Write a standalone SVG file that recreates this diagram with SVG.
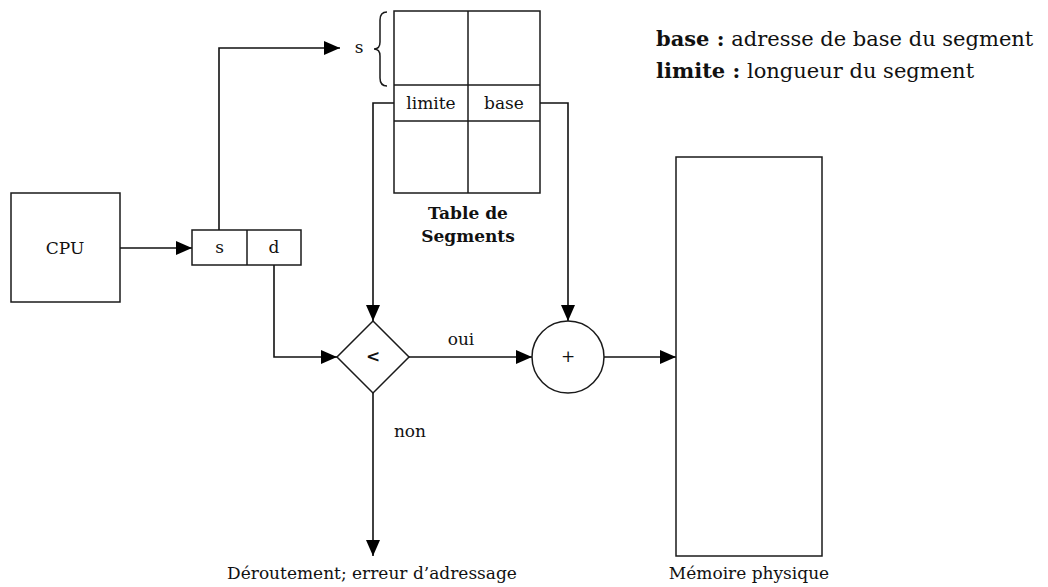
<svg xmlns="http://www.w3.org/2000/svg" width="1048" height="587" viewBox="0 0 1048 587">
  <style>
    .box { fill: #fff; stroke: #1a1a1a; stroke-width: 1.5; }
    .line { fill: none; stroke: #1a1a1a; stroke-width: 1.5; }
    .wire { fill: none; stroke: #111; stroke-width: 1.6; }
    .lbl { font-family: "DejaVu Serif", "Liberation Serif", serif; font-size: 17px; fill: #111; text-anchor: middle; }
    .bold { font-weight: bold; }
    .legend { font-family: "DejaVu Serif", "Liberation Serif", serif; font-size: 21px; fill: #111; }
  </style>
  <defs>
    <marker id="arrow" markerUnits="userSpaceOnUse" markerWidth="16" markerHeight="14" refX="16" refY="7" orient="auto">
      <path d="M0,0 L16,7 L0,14 z" fill="#000"/>
    </marker>
  </defs>

  <rect width="1048" height="587" fill="#fff"/>

  <!-- connectors -->
  <g id="connectors">
    <path class="wire" d="M120,248 H192" marker-end="url(#arrow)"/>
    <path class="wire" d="M219,230 V48 H340" marker-end="url(#arrow)"/>
    <path class="wire" d="M394,103 H373 V321" marker-end="url(#arrow)"/>
    <path class="wire" d="M540,103 H568 V321" marker-end="url(#arrow)"/>
    <path class="wire" d="M274,265 V357 H337" marker-end="url(#arrow)"/>
    <path class="wire" d="M409,357 H532" marker-end="url(#arrow)"/>
    <path class="wire" d="M604,357 H676" marker-end="url(#arrow)"/>
    <path class="wire" d="M373,393 V556" marker-end="url(#arrow)"/>
    <text class="lbl" x="461" y="345">oui</text>
    <text class="lbl" x="410" y="437">non</text>
  </g>

  <!-- processor -->
  <g id="cpu">
    <rect class="box" x="11" y="193" width="109" height="109"/>
    <text class="lbl" x="65" y="254" font-size="18">CPU</text>
  </g>

  <!-- logical address: segment number / offset -->
  <g id="address">
    <rect class="box" x="192" y="230" width="109" height="35"/>
    <line class="line" x1="247" y1="230" x2="247" y2="265"/>
    <text class="lbl" x="219.5" y="253">s</text>
    <text class="lbl" x="274" y="253">d</text>
  </g>

  <!-- segment table -->
  <g id="segment-table">
    <text class="lbl" x="359" y="53">s</text>
    <path class="line" d="M387,12 Q380,12 380,20 V42 Q380,49 374,49 Q380,49 380,56 V78 Q380,86 387,86"/>
    <rect class="box" x="394" y="11" width="146" height="182"/>
    <line class="line" x1="468" y1="11" x2="468" y2="193"/>
    <line class="line" x1="394" y1="85" x2="540" y2="85"/>
    <line class="line" x1="394" y1="121" x2="540" y2="121"/>
    <text class="lbl" x="431" y="109">limite</text>
    <text class="lbl" x="504" y="109">base</text>
    <text class="lbl bold" x="468" y="219" font-size="16">Table de</text>
    <text class="lbl bold" x="468" y="242" font-size="16">Segments</text>
  </g>

  <!-- limit comparison -->
  <g id="compare">
    <path class="box" d="M373,321 L409,357 L373,393 L337,357 z"/>
    <text class="lbl bold" x="373" y="362" font-size="15">&lt;</text>
  </g>

  <!-- base addition -->
  <g id="adder">
    <circle class="box" cx="568" cy="357" r="36"/>
    <text class="lbl" x="568" y="362" font-size="15">+</text>
  </g>

  <!-- physical memory -->
  <g id="memory">
    <rect class="box" x="676" y="157" width="146" height="399"/>
    <text class="lbl" x="749" y="579">Mémoire physique</text>
  </g>

  <!-- trap -->
  <g id="trap">
    <text class="lbl" x="372" y="579">Déroutement; erreur d’adressage</text>
  </g>

  <!-- legend -->
  <g id="legend">
    <text class="legend" x="656" y="46"><tspan class="bold">base :</tspan> adresse de base du segment</text>
    <text class="legend" x="656" y="78"><tspan class="bold">limite :</tspan> longueur du segment</text>
  </g>
</svg>
